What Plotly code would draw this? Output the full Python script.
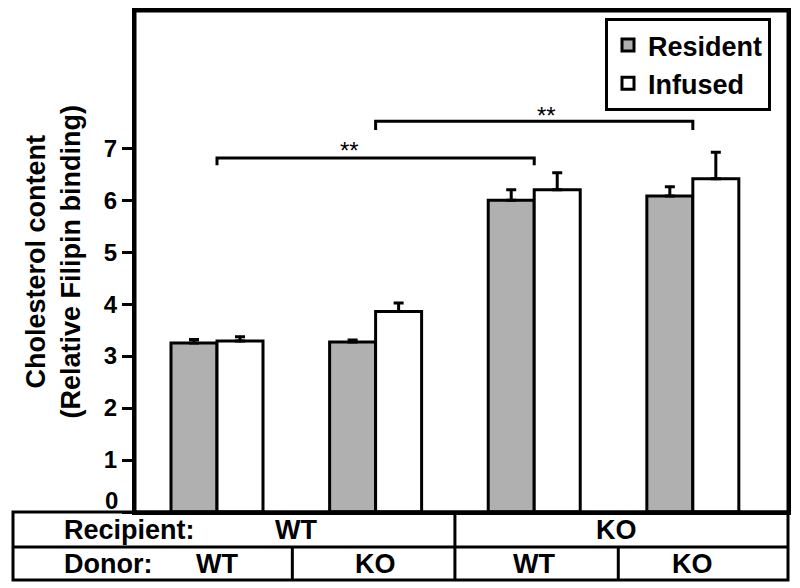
import plotly.graph_objects as go

# ---- data ----
groups = [0, 1, 2, 3]
resident = [3.25, 3.27, 6.00, 6.08]
resident_err = [0.07, 0.04, 0.20, 0.18]
infused = [3.29, 3.86, 6.20, 6.41]
infused_err = [0.08, 0.16, 0.33, 0.51]
recipient_labels = ["WT", "KO"]
donor_labels = ["WT", "KO", "WT", "KO"]
y_ticks = [0, 1, 2, 3, 4, 5, 6, 7]
y_title = "Cholesterol content<br>(Relative Filipin binding)"

FONT = "Liberation Sans, Arial, sans-serif"
X0, X1 = -0.517, 3.6
Y0, Y1 = 0, 9.64
PW, PH = 653.0, 501.0   # plot area size in px

fig = go.Figure()
fig.add_trace(go.Bar(
    x=groups, y=resident, name="Resident",
    marker=dict(color="#b0b0b0", line=dict(color="black", width=3)),
    error_y=dict(type="data", array=resident_err, arrayminus=[0]*4, symmetric=False,
                 color="black", thickness=3, width=5),
))
fig.add_trace(go.Bar(
    x=groups, y=infused, name="Infused",
    marker=dict(color="white", line=dict(color="black", width=3)),
    error_y=dict(type="data", array=infused_err, arrayminus=[0]*4, symmetric=False,
                 color="black", thickness=3, width=5),
))

def px(xd):
    return (xd - X0) / (X1 - X0)

shapes = []
# plot frame
shapes.append(dict(type="rect", xref="paper", yref="paper", x0=0, x1=1, y0=0, y1=1,
                   line=dict(color="black", width=3), layer="above"))
# significance brackets
for (xa, xb, yl, yt) in [(0, 2, 6.81, 6.67), (1, 3, 7.52, 7.35)]:
    shapes.append(dict(type="path", xref="x", yref="y",
                       path=f"M{xa},{yt} L{xa},{yl} L{xb},{yl} L{xb},{yt}",
                       line=dict(color="black", width=3)))
annotations = []
for (xs, ys) in [(0.838, 6.96), (2.079, 7.63)]:
    annotations.append(dict(x=xs, y=ys, xref="x", yref="y", text="**", showarrow=False,
                            font=dict(family=FONT, size=24, color="black"),
                            xanchor="center", yanchor="middle"))

# table
tl = -122 / PW
t_top, t_mid, t_bot = 0.0, -35 / PH, -68 / PH
lw = dict(color="black", width=3)
shapes.append(dict(type="rect", xref="paper", yref="paper", x0=tl, x1=1.0, y0=t_bot, y1=t_top, line=lw))
shapes.append(dict(type="line", xref="paper", yref="paper", x0=tl, x1=1.0, y0=t_mid, y1=t_mid, line=lw))
shapes.append(dict(type="line", xref="paper", yref="paper", x0=px(1.5), x1=px(1.5), y0=t_top, y1=t_bot, line=lw))
for xd in [0.475, 2.53]:
    shapes.append(dict(type="line", xref="paper", yref="paper", x0=px(xd), x1=px(xd), y0=t_mid, y1=t_bot, line=lw))

tfont = dict(family=FONT, size=27, color="black", weight="bold")
row1_y = (t_top + t_mid) / 2
row2_y = (t_mid + t_bot) / 2
annotations.append(dict(x=-73 / PW, y=row1_y, xref="paper", yref="paper", text="Recipient:",
                        showarrow=False, xanchor="left", yanchor="middle", font=tfont))
annotations.append(dict(x=-73 / PW, y=row2_y, xref="paper", yref="paper", text="Donor:",
                        showarrow=False, xanchor="left", yanchor="middle", font=tfont))
for lab, xd in zip(recipient_labels, [0.5, 2.52]):
    annotations.append(dict(x=px(xd), y=row1_y, xref="paper", yref="paper", text=lab,
                            showarrow=False, xanchor="center", yanchor="middle", font=tfont))
for lab, xd in zip(donor_labels, groups):
    annotations.append(dict(x=px(xd), y=row2_y, xref="paper", yref="paper", text=lab,
                            showarrow=False, xanchor="center", yanchor="middle", font=tfont))
# raised "0" tick label
annotations.append(dict(x=-15 / PW, y=0, xref="paper", yref="y", text=str(y_ticks[0]), showarrow=False,
                        xanchor="right", yanchor="bottom", yshift=-4,
                        font=dict(family=FONT, size=24, color="black", weight="bold")))
# y axis title
annotations.append(dict(x=-82.5 / PW, y=(504 - 254) / PH, xref="paper", yref="paper", text=y_title,
                        showarrow=False, textangle=-90, xanchor="center", yanchor="middle",
                        font=dict(family=FONT, size=27, color="black", weight="bold")))

fig.update_layout(
    width=800, height=588,
    margin=dict(l=127, r=20, t=3, b=84, autoexpand=False),
    paper_bgcolor="white", plot_bgcolor="white",
    barmode="group", bargap=0.42, bargroupgap=0,
    font=dict(family=FONT, color="black"),
    showlegend=True,
    legend=dict(x=470 / PW, y=(501 - 7) / PH, xanchor="left", yanchor="top",
                bordercolor="black", borderwidth=3, bgcolor="white",
                font=dict(family=FONT, size=27, color="black", weight="bold"),
                itemwidth=30, tracegroupgap=0),
    xaxis=dict(range=[X0, X1], showticklabels=False, ticks="", showgrid=False, zeroline=False,
               showline=True, mirror=True, linecolor="black", linewidth=3, fixedrange=True),
    yaxis=dict(range=[Y0, Y1], tickvals=y_ticks, ticktext=[""] + [str(v) for v in y_ticks[1:]],
               ticks="outside", ticklen=10, tickwidth=3, tickcolor="black",
               tickfont=dict(family=FONT, size=24, color="black", weight="bold"),
               showgrid=False, zeroline=False, showline=True, mirror=True,
               linecolor="black", linewidth=3),
    shapes=shapes, annotations=annotations,
)
fig.write_html("out.html")
